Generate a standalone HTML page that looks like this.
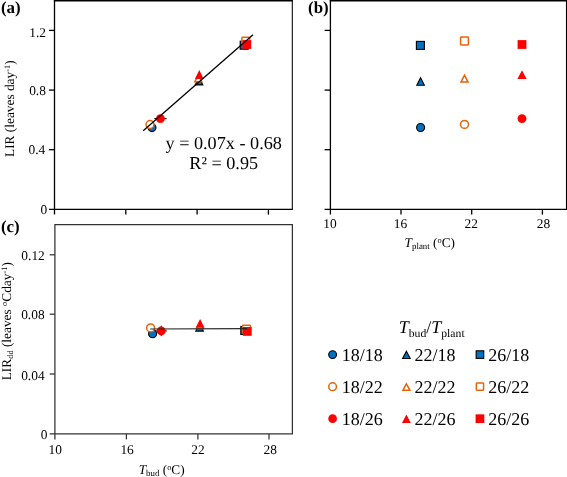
<!DOCTYPE html>
<html lang="en"><head><meta charset="utf-8"><title>LIR figure</title>
<style>
html,body{margin:0;padding:0;background:#fff;}
body{width:567px;height:477px;overflow:hidden;}
svg{display:block;text-rendering:geometricPrecision;font-family:"Liberation Serif","Times New Roman",serif;fill:#000;}
.t{font-size:13.4px;}
.ti{font-size:13.3px;}
.ty{font-size:13.35px;}
.pl{font-size:16.9px;font-weight:bold;}
.eq{font-size:18.2px;}
.lg{font-size:18px;}
.i{font-style:italic;}
</style></head><body>
<svg width="567" height="477" viewBox="0 0 567 477">
<rect width="567" height="477" fill="#fff"/>

<g stroke="#000" fill="none" stroke-width="1.3">
<path d="M54.5 0V214.6M49.0 209.4H292.8" />
<path d="M292.3 209.4V0" stroke-width="1.05"/>
<path d="M53.9 0.5H292.8" stroke-width="1.8"/>
<path d="M49.0 30.4H54.5"/>
<path d="M49.0 90.1H54.5"/>
<path d="M49.0 149.7H54.5"/>
<path d="M125.8 209.4V214.6"/>
<path d="M197.1 209.4V214.6"/>
<path d="M268.4 209.4V214.6"/>
</g>
<g stroke="#000" fill="none" stroke-width="1.3">
<path d="M330.4 0V214.6M324.59999999999997 209.4H567" />
<path d="M566.55 209.4V0" stroke-width="1.2"/>
<path d="M329.79999999999995 0.5H567" stroke-width="1.9"/>
<path d="M324.59999999999997 30.4H330.4"/>
<path d="M324.59999999999997 90.1H330.4"/>
<path d="M324.59999999999997 149.7H330.4"/>
<path d="M401.0 209.4V214.6"/>
<path d="M471.7 209.4V214.6"/>
<path d="M542.4 209.4V214.6"/>
</g>
<g stroke="#333" fill="none" stroke-width="1.25">
<path d="M54.9 439.4V224.6H292.4V433.9H49.699999999999996" />
<path d="M49.699999999999996 254.8H54.9"/>
<path d="M49.699999999999996 314.2H54.9"/>
<path d="M49.699999999999996 374.0H54.9"/>
<path d="M126.4 433.9V439.4"/>
<path d="M197.9 433.9V439.4"/>
<path d="M269.0 433.9V439.4"/>
</g>
<text class="pl" x="1.0" y="12.7">(a)</text>
<text class="pl" x="308.1" y="12.7">(b)</text>
<text class="pl" x="1.0" y="231.8">(c)</text>
<text class="t" x="46.0" y="36.6" text-anchor="end">1.2</text>
<text class="t" x="45.9" y="94.5" text-anchor="end">0.8</text>
<text class="t" x="45.2" y="154.0" text-anchor="end">0.4</text>
<text class="t" x="47.3" y="213.8" text-anchor="end">0</text>
<text class="t" x="44.8" y="259.7" text-anchor="end">0.12</text>
<text class="t" x="44.6" y="319.1" text-anchor="end">0.08</text>
<text class="t" x="44.6" y="379.5" text-anchor="end">0.04</text>
<text class="t" x="47.4" y="438.5" text-anchor="end">0</text>
<text class="t" x="329.9" y="227.9" text-anchor="middle">10</text>
<text class="t" x="400.5" y="227.9" text-anchor="middle">16</text>
<text class="t" x="471.2" y="227.9" text-anchor="middle">22</text>
<text class="t" x="543.4" y="227.9" text-anchor="middle">28</text>
<text class="t" x="55.2" y="453.9" text-anchor="middle">10</text>
<text class="t" x="127.1" y="453.9" text-anchor="middle">16</text>
<text class="t" x="198.0" y="453.9" text-anchor="middle">22</text>
<text class="t" x="270.3" y="453.9" text-anchor="middle">28</text>
<text class="ti" x="404.6" y="247"><tspan class="i">T</tspan><tspan font-size="8.9px" dy="2.1">plant</tspan><tspan dy="-2.1"> (</tspan><tspan font-size="8.4px" dy="-4">o</tspan><tspan dy="4">C)</tspan></text>
<text class="ti" x="138.7" y="473.5"><tspan class="i">T</tspan><tspan font-size="8.9px" dy="2.1">bud</tspan><tspan dy="-2.1"> (</tspan><tspan font-size="8.4px" dy="-4">o</tspan><tspan dy="4">C)</tspan></text>
<text class="ty" transform="translate(13.7,157.0) rotate(-90)">LIR (leaves day<tspan font-size="8.4px" dy="-4">-1</tspan><tspan dy="4">)</tspan></text>
<text class="ty" transform="translate(10.9,380.3) rotate(-90)">LIR<tspan font-size="8.4px" dy="2.2">dd</tspan><tspan dy="-2.2"> (leaves </tspan><tspan font-size="8.4px" dy="-4">o</tspan><tspan dy="4">Cday</tspan><tspan font-size="8.4px" dy="-4">-1</tspan><tspan dy="4">)</tspan></text>
<text class="eq" x="223.7" y="149.4" text-anchor="middle">y = 0.07x - 0.68</text>
<text class="eq" x="223.7" y="169.3" text-anchor="middle">R² = 0.95</text>
<circle cx="152.0" cy="127.6" r="4.0" fill="#0070c0" stroke="#000" stroke-width="1.1"/>
<rect x="240.2" y="41.2" width="8.0" height="8.0" fill="#0070c0" stroke="#000" stroke-width="1.1"/>
<path d="M199.0 77.2L202.79999999999998 84.9L195.20000000000002 84.9Z" fill="#0070c0" stroke="#000" stroke-width="1.1" stroke-linejoin="miter"/>
<circle cx="150.0" cy="124.5" r="3.95" fill="#fff" stroke="#e5640a" stroke-width="1.5"/>
<rect x="241.9" y="37.2" width="7.8" height="7.8" rx="0.7" fill="#fff" stroke="#e5640a" stroke-width="1.5"/>
<path d="M198.3 74.8L201.8 81.85L194.8 81.85Z" fill="#fff" stroke="#e5640a" stroke-width="1.5" stroke-linejoin="miter"/>
<path d="M154.3 118.6H166.6" stroke="#000" stroke-width="1"/>
<circle cx="160.4" cy="118.6" r="4.45" fill="#ff0000"/>
<rect x="242.4" y="40.1" width="8.8" height="8.8" fill="#ff0000"/>
<path d="M199.3 70.1L203.70000000000002 78.9L194.9 78.9Z" fill="#ff0000"/>
<path d="M143.2 130.7L253 34.7" stroke="#000" stroke-width="1.3"/>
<rect x="416.4" y="41.4" width="8.0" height="8.0" fill="#0070c0" stroke="#000" stroke-width="1.1"/>
<path d="M420.6 77.8L424.40000000000003 85.2L416.8 85.2Z" fill="#0070c0" stroke="#000" stroke-width="1.1" stroke-linejoin="miter"/>
<circle cx="420.6" cy="127.5" r="4.0" fill="#0070c0" stroke="#000" stroke-width="1.1"/>
<rect x="460.6" y="37.1" width="7.8" height="7.8" rx="0.7" fill="#fff" stroke="#e5640a" stroke-width="1.5"/>
<path d="M464.5 75.2L468.0 82.05L461.0 82.05Z" fill="#fff" stroke="#e5640a" stroke-width="1.5" stroke-linejoin="miter"/>
<circle cx="464.5" cy="124.4" r="3.95" fill="#fff" stroke="#e5640a" stroke-width="1.5"/>
<rect x="517.6" y="40.1" width="8.8" height="8.8" fill="#ff0000"/>
<path d="M522 70.3L526.65 79.1L517.35 79.1Z" fill="#ff0000"/>
<circle cx="522" cy="118.6" r="4.45" fill="#ff0000"/>
<circle cx="152.6" cy="333.8" r="4.0" fill="#0070c0" stroke="#000" stroke-width="1.1"/>
<rect x="240.8" y="326.5" width="8.0" height="8.0" fill="#0070c0" stroke="#000" stroke-width="1.1"/>
<path d="M199.6 323.6L203.39999999999998 331.1L195.8 331.1Z" fill="#0070c0" stroke="#000" stroke-width="1.1" stroke-linejoin="miter"/>
<circle cx="150.6" cy="327.9" r="3.95" fill="#fff" stroke="#e5640a" stroke-width="1.5"/>
<rect x="242.6" y="325.3" width="7.8" height="7.8" rx="0.7" fill="#fff" stroke="#e5640a" stroke-width="1.5"/>
<path d="M199.8 322.0L203.3 328.85L196.3 328.85Z" fill="#fff" stroke="#e5640a" stroke-width="1.5" stroke-linejoin="miter"/>
<path d="M155.5 330.9H166.9M161.2 325.7V336.1" stroke="#000" stroke-width="1"/>
<circle cx="161.2" cy="330.9" r="4.45" fill="#ff0000"/>
<rect x="242.9" y="327.0" width="8.8" height="8.8" fill="#ff0000"/>
<path d="M200.1 319.1L204.5 327.8L195.7 327.8Z" fill="#ff0000"/>
<path d="M150.2 329.05L247 328.65" stroke="#262626" stroke-width="1.15"/>
<text class="lg" x="398.7" y="333.3"><tspan class="i">T</tspan><tspan font-size="11.7px" dy="3.4">bud</tspan><tspan dy="-3.4">/</tspan><tspan class="i">T</tspan><tspan font-size="11.7px" dy="3.4">plant</tspan></text>
<circle cx="332.6" cy="354.6" r="3.9" fill="#0070c0" stroke="#000" stroke-width="1.1"/>
<path d="M406.4 351.3L410.2 358.5L402.59999999999997 358.5Z" fill="#0070c0" stroke="#000" stroke-width="1.1" stroke-linejoin="miter"/>
<rect x="476.15" y="350.8" width="7.6" height="7.6" fill="#0070c0" stroke="#000" stroke-width="1.1"/>
<text class="lg" x="341.8" y="361.2">18/18</text>
<text class="lg" x="414.4" y="361.2">22/18</text>
<text class="lg" x="488.3" y="361.2">26/18</text>
<circle cx="332.6" cy="386.7" r="3.85" fill="#fff" stroke="#e5640a" stroke-width="1.5"/>
<path d="M406.4 383.9L409.9 390.34999999999997L402.9 390.34999999999997Z" fill="#fff" stroke="#e5640a" stroke-width="1.5" stroke-linejoin="miter"/>
<rect x="476.35" y="383.1" width="7.2" height="7.2" rx="0.7" fill="#fff" stroke="#e5640a" stroke-width="1.5"/>
<text class="lg" x="341.8" y="393.2">18/22</text>
<text class="lg" x="414.4" y="393.2">22/22</text>
<text class="lg" x="488.3" y="393.2">26/22</text>
<circle cx="332.6" cy="418.7" r="4.35" fill="#ff0000"/>
<path d="M406.4 414.4L410.79999999999995 423.09999999999997L402.0 423.09999999999997Z" fill="#ff0000"/>
<rect x="475.6" y="414.35" width="8.700000000000001" height="8.700000000000001" fill="#ff0000"/>
<text class="lg" x="341.8" y="425.3">18/26</text>
<text class="lg" x="414.4" y="425.3">22/26</text>
<text class="lg" x="488.3" y="425.3">26/26</text>
</svg></body></html>
